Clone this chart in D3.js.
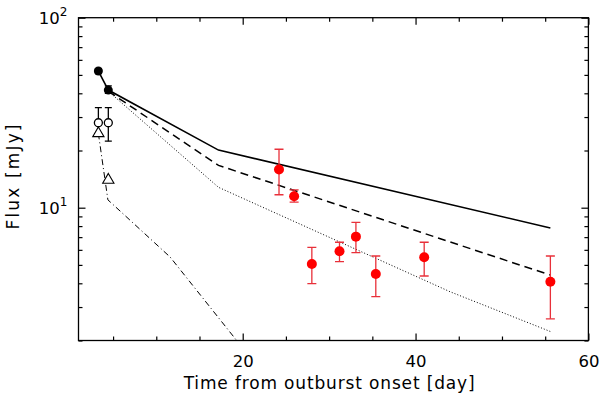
<!DOCTYPE html>
<html>
<head>
<meta charset="utf-8">
<script src="https://cdn.jsdelivr.net/npm/d3@7"></script>
<style>
  body { margin: 0; background: #fff; }
  text { font-family: "DejaVu Sans", sans-serif; fill: #000; }
</style>
</head>
<body>
<svg id="chart"></svg>
<script>
// early points (black)
const filledTime = [3.3, 4.45];
const filledFlux = [52.4, 41.6];
const filledLo = [51.0, 40.0];
const filledHi = [54.0, 43.8];

const openCircleTime = [3.3, 4.45];
const openCircleFlux = [28.0, 28.0];
const openCircleLo = [24.5, 22.4];
const openCircleHi = [33.6, 33.6];

const triangleTime = [3.3, 4.45];
const triangleFlux = [24.6, 14.0];

// late points (red)
const redTime = [24.2, 25.95, 28.0, 31.2, 33.1, 35.4, 41.0, 55.6];
const redFlux = [15.9, 11.5, 5.05, 5.9, 7.04, 4.48, 5.48, 4.08];
const redLo = [11.7, 10.7, 3.98, 5.2, 5.8, 3.40, 4.37, 2.6];
const redHi = [20.3, 12.4, 6.19, 6.58, 8.38, 5.57, 6.58, 5.57];

// model curves
const solidTime = [3.3, 4.45, 17.2, 55.6];
const solidFlux = [52.4, 41.6, 20.1, 7.82];
const dashedTime = [4.45, 17.2, 55.6];
const dashedFlux = [41.0, 16.7, 4.42];
const dottedTime = [4.45, 17.2, 44.0, 55.6];
const dottedFlux = [41.0, 12.8, 3.61, 2.23];
const dashDotTime = [3.3, 4.4, 11.6, 19.3];
const dashDotFlux = [24.6, 11.0, 5.5, 2.0];

// axes
const xMajor = [20, 40, 60];
const xMinor = [5, 10, 15, 25, 30, 35, 45, 50, 55];
const yMajor = [10, 100];
const yMinor = [2, 3, 4, 5, 6, 7, 8, 9, 20, 30, 40, 50, 60, 70, 80, 90];

const width = 600;
const height = 394;
const margin = { top: 17.7, right: 11.6, bottom: 53.5, left: 78.5 };
const w = width - margin.left - margin.right;
const h = height - margin.top - margin.bottom;

const svg = d3.select("#chart")
  .attr("width", width)
  .attr("height", height);

const g = svg.append("g")
  .attr("transform", `translate(${margin.left},${margin.top})`);

const x = d3.scaleLinear().domain([1, 60]).range([0, w]);
const y = d3.scaleLog().domain([2, 100]).range([h, 0]);

g.append("clipPath").attr("id", "clip")
  .append("rect").attr("width", w).attr("height", h);

// ticks on all four sides, pointing in
function tickAxis(axis, vals, size, transform) {
  const a = g.append("g")
    .attr("transform", transform)
    .call(axis.tickValues(vals).tickSize(-size).tickSizeOuter(0).tickFormat(""));
  a.select(".domain").remove();
  a.selectAll("line").attr("stroke", "#000").attr("stroke-width", 1.2);
  return a;
}

const bottomMajor = tickAxis(d3.axisBottom(x), xMajor, 7, `translate(0,${h})`);
tickAxis(d3.axisBottom(x), xMinor, 4, `translate(0,${h})`);
tickAxis(d3.axisTop(x), xMajor, 7, "translate(0,0)");
tickAxis(d3.axisTop(x), xMinor, 4, "translate(0,0)");
tickAxis(d3.axisLeft(y), yMajor, 7, "translate(0,0)");
tickAxis(d3.axisLeft(y), yMinor, 4, "translate(0,0)");
tickAxis(d3.axisRight(y), yMajor, 7, `translate(${w},0)`);
tickAxis(d3.axisRight(y), yMinor, 4, `translate(${w},0)`);

bottomMajor.selectAll(".tick text")
  .text(d => d)
  .attr("y", 15)
  .attr("dy", "0.71em")
  .attr("fill", "#000")
  .style("font-size", "16.5px");

g.selectAll(".ylab")
  .data(yMajor)
  .join("text")
  .attr("class", "ylab")
  .attr("x", -11)
  .attr("y", d => y(d) + 6.5)
  .attr("text-anchor", "end")
  .style("font-size", "16.5px")
  .each(function (d) {
    const t = d3.select(this);
    t.append("tspan").text("10");
    t.append("tspan").attr("dy", -8).style("font-size", "12px").text(Math.round(Math.log10(d)));
  });

g.append("rect")
  .attr("width", w)
  .attr("height", h)
  .attr("fill", "none")
  .attr("stroke", "#000")
  .attr("stroke-width", 1.3);

svg.append("text")
  .attr("x", margin.left + x(30))
  .attr("y", 389)
  .attr("text-anchor", "middle")
  .attr("textLength", 291)
  .attr("lengthAdjust", "spacing")
  .style("font-size", "17px")
  .text("Time from outburst onset [day]");

svg.append("text")
  .attr("transform", `translate(19,177) rotate(-90)`)
  .attr("text-anchor", "middle")
  .attr("textLength", 105)
  .attr("lengthAdjust", "spacing")
  .style("font-size", "17px")
  .text("Flux [mJy]");

// model lines
const line = d3.line().x(d => x(d[0])).y(d => y(d[1]));
const plot = g.append("g").attr("clip-path", "url(#clip)");

function modelLine(ts, fs, dash, sw) {
  plot.append("path")
    .datum(d3.zip(ts, fs))
    .attr("d", line)
    .attr("fill", "none")
    .attr("stroke", "#000")
    .attr("stroke-width", sw)
    .attr("stroke-dasharray", dash);
}
modelLine(solidTime, solidFlux, null, 1.6);
modelLine(dashedTime, dashedFlux, "8,5", 1.5);
modelLine(dottedTime, dottedFlux, "1,2", 1);
modelLine(dashDotTime, dashDotFlux, "6,3,1,3", 1);

// error bars
function errorBars(ts, lo, hi, color, cap) {
  const data = d3.zip(ts, lo, hi);
  const eb = plot.append("g").attr("stroke", color).attr("stroke-width", 1.3);
  eb.selectAll(".v").data(data).join("line")
    .attr("x1", d => x(d[0])).attr("x2", d => x(d[0]))
    .attr("y1", d => y(d[1])).attr("y2", d => y(d[2]));
  eb.selectAll(".lo").data(data).join("line")
    .attr("x1", d => x(d[0]) - cap).attr("x2", d => x(d[0]) + cap)
    .attr("y1", d => y(d[1])).attr("y2", d => y(d[1]));
  eb.selectAll(".hi").data(data).join("line")
    .attr("x1", d => x(d[0]) - cap).attr("x2", d => x(d[0]) + cap)
    .attr("y1", d => y(d[2])).attr("y2", d => y(d[2]));
}

errorBars(filledTime, filledLo, filledHi, "#000", 3.5);
errorBars(openCircleTime, openCircleLo, openCircleHi, "#000", 3.5);
errorBars(redTime, redLo, redHi, "#e8303a", 4.5);

plot.selectAll(".tri")
  .data(d3.zip(triangleTime, triangleFlux))
  .join("path")
  .attr("d", d3.symbol(d3.symbolTriangle, 55))
  .attr("transform", d => `translate(${x(d[0])},${y(d[1])})`)
  .attr("fill", "#fff")
  .attr("stroke", "#000")
  .attr("stroke-width", 1.1);

plot.selectAll(".open")
  .data(d3.zip(openCircleTime, openCircleFlux))
  .join("circle")
  .attr("cx", d => x(d[0]))
  .attr("cy", d => y(d[1]))
  .attr("r", 4)
  .attr("fill", "#fff")
  .attr("stroke", "#000")
  .attr("stroke-width", 1.3);

plot.selectAll(".filled")
  .data(d3.zip(filledTime, filledFlux))
  .join("circle")
  .attr("cx", d => x(d[0]))
  .attr("cy", d => y(d[1]))
  .attr("r", 4.5)
  .attr("fill", "#000");

plot.selectAll(".red")
  .data(d3.zip(redTime, redFlux))
  .join("circle")
  .attr("cx", d => x(d[0]))
  .attr("cy", d => y(d[1]))
  .attr("r", 5)
  .attr("fill", "#f00");
</script>
</body>
</html>
